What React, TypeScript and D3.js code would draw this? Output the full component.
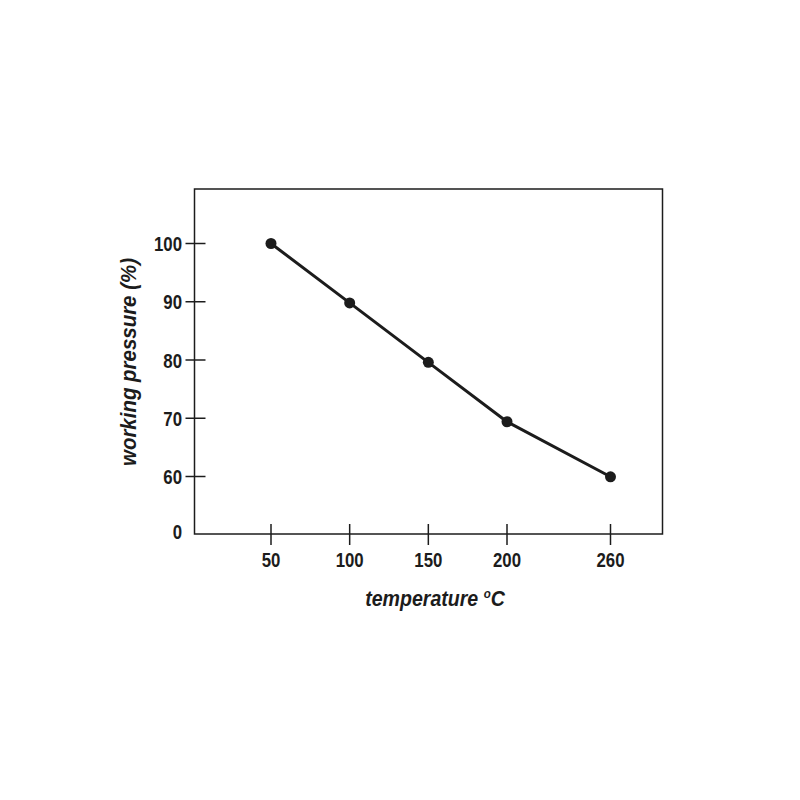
import React from "react";
import * as d3 from "d3";

const temperatures = [50, 100, 150, 200, 260];
const pressures = [100, 89.8, 79.6, 69.4, 59.7];
const xTicks = [50, 100, 150, 200, 260];
const yTicks = [0, 60, 70, 80, 90, 100];

const FONT = "'Liberation Sans Narrow', 'Arial Narrow', 'Liberation Sans', Arial, sans-serif";

export default function App() {
  const left = 194.5, right = 662.5, top = 189, bottom = 534;
  // broken axes: piecewise linear scales as in the original drawing
  const x = d3.scaleLinear().domain([50, 200, 260]).range([271, 507, 610.5]);
  const y = d3.scaleLinear().domain([0, 60, 100]).range([531, 476.5, 243.5]);
  const line = d3
    .line<number>()
    .x((_, i) => x(temperatures[i]))
    .y((d) => y(d));
  const ink = "#1c1c1c";
  const sx = 0.8;
  return (
    <svg
      width={800}
      height={800}
      style={{ position: "absolute", left: 0, top: 0, background: "#fff" }}
    >
      <rect x={0} y={0} width={800} height={800} fill="#fff" />
      <rect
        x={left}
        y={top}
        width={right - left}
        height={bottom - top}
        fill="none"
        stroke={ink}
        strokeWidth={1.5}
      />
      {yTicks.map((t) => (
        <g key={"y" + t}>
          {t !== 0 && (
            <line x1={left - 9} x2={left + 11} y1={y(t)} y2={y(t)} stroke={ink} strokeWidth={1.5} />
          )}
          <g transform={`translate(182, ${y(t)}) scale(${sx}, 1)`}>
            <text
              dy="0.36em"
              textAnchor="end"
              fontFamily={FONT}
              fontWeight="bold"
              fontSize={21}
              fill={ink}
            >
              {t}
            </text>
          </g>
        </g>
      ))}
      {xTicks.map((t) => (
        <g key={"x" + t}>
          <line x1={x(t)} x2={x(t)} y1={bottom - 10} y2={bottom + 11} stroke={ink} strokeWidth={1.5} />
          <g transform={`translate(${x(t)}, 567) scale(${sx}, 1)`}>
            <text textAnchor="middle" fontFamily={FONT} fontWeight="bold" fontSize={21} fill={ink}>
              {t}
            </text>
          </g>
        </g>
      ))}
      <path d={line(pressures) || ""} fill="none" stroke={ink} strokeWidth={3} strokeLinejoin="round" />
      {pressures.map((p, i) => (
        <circle key={"c" + i} cx={x(temperatures[i])} cy={y(p)} r={5.5} fill={ink} />
      ))}
      <g transform="translate(435, 606) scale(0.89, 1)">
        <text
          textAnchor="middle"
          fontFamily={FONT}
          fontWeight="bold"
          fontStyle="italic"
          fontSize={22}
          fill={ink}
        >
          temperature <tspan dy={-8} fontSize={13}>o</tspan>
          <tspan dy={8}>C</tspan>
        </text>
      </g>
      <g transform="translate(136, 362) rotate(-90) scale(0.93, 1)">
        <text
          textAnchor="middle"
          fontFamily={FONT}
          fontWeight="bold"
          fontStyle="italic"
          fontSize={22}
          fill={ink}
        >
          working pressure (%)
        </text>
      </g>
    </svg>
  );
}
